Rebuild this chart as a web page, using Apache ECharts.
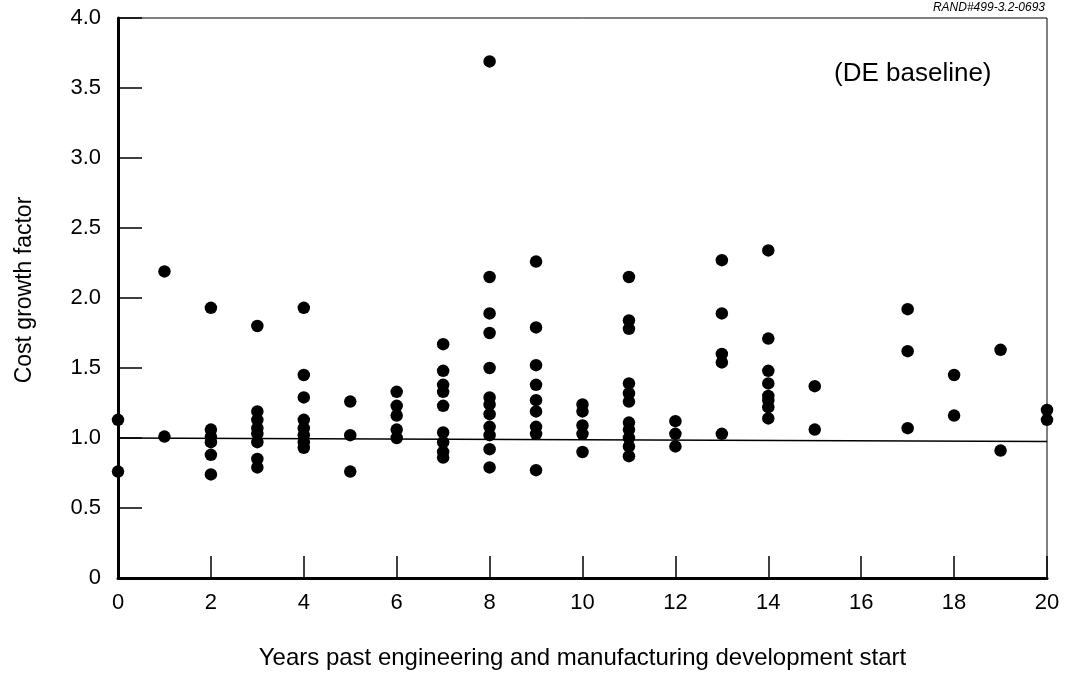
<!DOCTYPE html>
<html>
	<head>
		<meta charset="utf-8">
		<title></title>
		<style type="text/css">
			body{ margin: 0; background: #fff; }
			#main{
				width: 1065px;
				height: 677px;
			}
		</style>
	</head>
	<body>
		<div id="main"></div>
	</body>
<script src="https://cdn.jsdelivr.net/npm/echarts@6/dist/echarts.min.js" type="text/javascript" charset="utf-8"></script>
<script type="text/javascript">
	// years past EMD start, and the cost growth factors observed in each year
	var years = [0, 1, 2, 3, 4, 5, 6, 7, 8, 9, 10, 11, 12, 13, 14, 15, 17, 18, 19, 20]
	var growth = [
		[1.13, 0.76],
		[2.19, 1.01],
		[1.93, 1.06, 1.01, 0.97, 0.88, 0.74],
		[1.80, 1.19, 1.13, 1.07, 1.03, 0.97, 0.85, 0.79],
		[1.93, 1.45, 1.29, 1.13, 1.07, 1.02, 0.97, 0.93],
		[1.26, 1.02, 0.76],
		[1.33, 1.23, 1.16, 1.06, 1.00],
		[1.67, 1.48, 1.38, 1.33, 1.23, 1.04, 0.97, 0.90, 0.86],
		[3.69, 2.15, 1.89, 1.75, 1.50, 1.29, 1.24, 1.17, 1.08, 1.02, 0.92, 0.79],
		[2.26, 1.79, 1.52, 1.38, 1.27, 1.19, 1.08, 1.03, 0.77],
		[1.24, 1.19, 1.09, 1.03, 0.90],
		[2.15, 1.84, 1.78, 1.39, 1.32, 1.26, 1.11, 1.06, 1.00, 0.94, 0.87],
		[1.12, 1.03, 0.94],
		[2.27, 1.89, 1.60, 1.54, 1.03],
		[2.34, 1.71, 1.48, 1.39, 1.30, 1.27, 1.22, 1.14],
		[1.37, 1.06],
		[1.92, 1.62, 1.07],
		[1.45, 1.16],
		[1.63, 0.91],
		[1.20, 1.13]
	]
	var xTicks = [0, 2, 4, 6, 8, 10, 12, 14, 16, 18, 20]
	var yTicks = ['0', '0.5', '1.0', '1.5', '2.0', '2.5', '3.0', '3.5', '4.0']

	var points = []
	for (var i = 0; i < years.length; i++) {
		for (var j = 0; j < growth[i].length; j++) {
			points.push([years[i], growth[i][j]])
		}
	}

	var font = 'Liberation Sans, Arial, sans-serif'
	var chartDom = document.getElementById('main');
	var myChart = echarts.init(chartDom);
	var option = {
		animation: false,
		grid: {
			left: 118, right: 18, top: 18, bottom: 99,
			show: true, borderColor: '#000', borderWidth: 1
		},
		graphic: [
			{
				type: 'text', right: 20, top: 2,
				style: { text: 'RAND#499-3.2-0693', fontSize: 12, fontStyle: 'italic', fontFamily: font, fill: '#000' }
			},
			{
				type: 'text', left: 834, top: 61,
				style: { text: '(DE baseline)', fontSize: 26, fontFamily: font, fill: '#000' }
			}
		],
		xAxis: {
			type: 'value', min: 0, max: 20, interval: 2,
			name: 'Years past engineering and manufacturing development start',
			nameLocation: 'middle', nameGap: 68,
			nameTextStyle: { fontSize: 24, fontFamily: font, color: '#000' },
			axisLine: { lineStyle: { color: '#000', width: 3 } },
			axisTick: { inside: true, length: 22, lineStyle: { color: '#000', width: 1.5 } },
			axisLabel: {
				fontSize: 22, fontFamily: font, color: '#000', margin: 14,
				formatter: function (v) { return xTicks.indexOf(v) >= 0 ? String(v) : '' }
			},
			splitLine: { show: false }
		},
		yAxis: {
			type: 'value', min: 0, max: 4, interval: 0.5,
			name: 'Cost growth factor',
			nameLocation: 'middle', nameGap: 82,
			nameTextStyle: { fontSize: 23, fontFamily: font, color: '#000', padding: [0, 0, 0, 16] },
			axisLine: { show: true, lineStyle: { color: '#000', width: 3 } },
			axisTick: { show: true, inside: true, length: 24, lineStyle: { color: '#000', width: 1.5 } },
			axisLabel: {
				fontSize: 22, fontFamily: font, color: '#000', margin: 17,
				formatter: function (v) { return yTicks[Math.round(v / 0.5)] }
			},
			splitLine: { show: false }
		},
		series: [
			{
				type: 'scatter',
				data: points,
				symbolSize: 12.5,
				itemStyle: { color: '#000', opacity: 1 },
				markLine: {
					silent: true, symbol: 'none', label: { show: false },
					lineStyle: { color: '#000', width: 1.5, type: 'solid', opacity: 1 },
					data: [[{ coord: [0, 1.0] }, { coord: [20, 0.975] }]]
				}
			}
		]
	};
	option && myChart.setOption(option);
</script>
</html>
